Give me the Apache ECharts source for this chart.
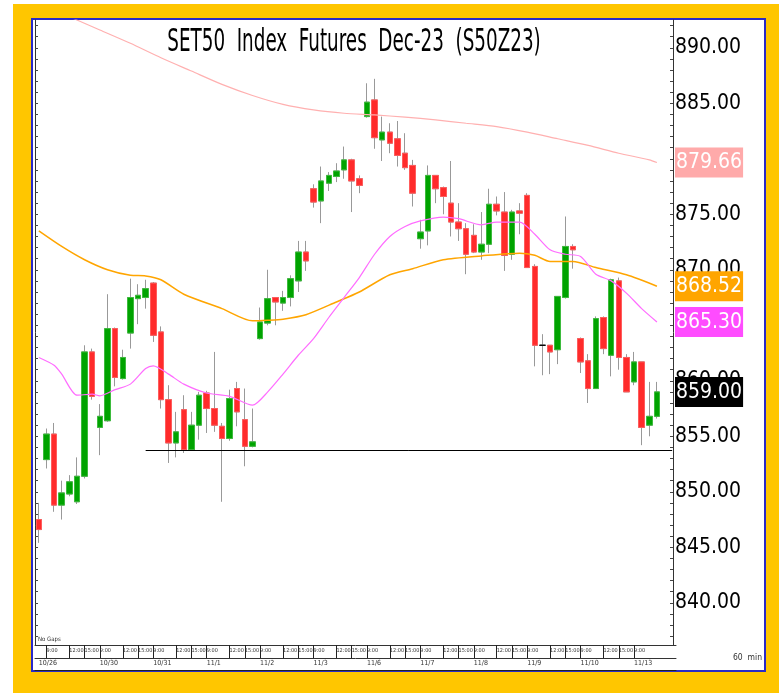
<!DOCTYPE html>
<html>
<head>
<meta charset="utf-8">
<title>SET50 Index Futures Dec-23</title>
<script src="https://cdn.jsdelivr.net/npm/echarts@6/dist/echarts.min.js"></script>
<style>
  html, body { margin: 0; padding: 0; background: #fff; }
  #frame { position: absolute; left: 13px; top: 4px; width: 766px; height: 689px; background: #ffc600; }
  #panel { position: absolute; left: 31px; top: 18px; width: 731px; height: 650px; background: #fff; border: 2px solid #2a2ac8; }
  #chart { position: absolute; left: 0; top: 0; width: 779px; height: 693px; }
</style>
</head>
<body>
<div id="frame"></div>
<div id="panel"></div>
<div id="chart"></div>
<script>
// trading days and 60 min bars per day (first day has one extra bar before 9:00)
const days = ["10/26", "10/30", "10/31", "11/1", "11/2", "11/3", "11/6", "11/7", "11/8", "11/9", "11/10", "11/13"];
const dayBars = [8, 7, 7, 7, 7, 7, 7, 7, 7, 7, 7, 4];
const sessionHours = ["9:00", "10:00", "11:00", "12:00", "14:00", "15:00", "16:00"];
const keyHours = ["9:00", "12:00", "15:00"];

// OHLC, one value per bar
const open = [
  847.5, 852.9, 855.2, 848.8, 849.8, 849.1, 851.4, 862.6, 855.8, 856.4,
  864.7, 860.2, 864.3, 867.4, 867.5, 868.8, 864.4, 858.3, 854.4, 857.4,
  853.8, 856.0, 858.9, 857.5, 855.9, 854.8, 859.3, 856.5, 854.1, 863.8,
  865.2, 867.5, 867.0, 867.5, 869.0, 871.6, 877.3, 876.2, 877.8, 878.4,
  879.0, 879.9, 878.2, 883.8, 885.3, 881.7, 882.4, 881.8, 880.5, 879.4,
  872.8, 873.5, 878.5, 877.4, 876.0, 874.3, 873.7, 873.1, 871.6, 872.3,
  875.9, 875.2, 871.4, 875.3, 876.7, 870.3, 863.2, 863.2, 862.8, 867.5,
  872.1, 863.8, 861.8, 859.3, 865.7, 862.3, 869.0, 862.1, 859.9, 861.7,
  856.0, 856.8
];
const close = [
  846.6, 855.2, 848.8, 849.9, 850.9, 851.4, 862.6, 858.6, 856.8, 864.7,
  860.3, 862.1, 867.5, 867.7, 868.3, 864.1, 858.3, 854.4, 855.4, 853.8,
  856.0, 858.7, 857.5, 856.0, 854.8, 858.4, 857.2, 854.1, 854.5, 865.3,
  867.4, 867.1, 867.5, 869.2, 871.6, 870.8, 876.1, 878.0, 878.5, 878.9,
  879.9, 878.0, 877.6, 885.1, 881.9, 882.4, 881.4, 880.3, 879.2, 876.9,
  873.4, 878.5, 877.3, 876.6, 874.3, 873.7, 871.4, 871.6, 872.3, 875.9,
  875.3, 871.3, 875.2, 875.1, 870.2, 863.2, 863.2, 862.6, 867.6, 872.1,
  871.8, 861.7, 859.3, 865.6, 862.9, 869.1, 862.1, 859.0, 861.7, 855.8,
  856.8, 859.0
];
const low = [
  845.4, 852.1, 848.2, 847.5, 849.6, 848.9, 851.2, 858.3, 853.3, 856.3,
  859.5, 860.1, 862.9, 865.1, 866.5, 863.5, 857.5, 852.6, 853.1, 853.5,
  853.8, 854.7, 855.3, 855.4, 849.1, 854.6, 855.9, 852.3, 854.0, 863.7,
  865.0, 865.0, 866.3, 866.7, 868.0, 869.9, 875.6, 874.2, 877.1, 877.9,
  878.2, 875.2, 876.9, 883.7, 880.9, 879.8, 880.5, 879.3, 879.0, 875.7,
  871.9, 872.2, 876.0, 875.0, 873.0, 872.6, 869.6, 871.5, 870.9, 871.5,
  874.9, 869.9, 870.9, 873.2, 870.2, 861.3, 860.5, 860.6, 861.5, 867.4,
  870.1, 860.7, 858.0, 859.3, 862.4, 860.4, 861.0, 859.0, 859.6, 854.2,
  855.0, 856.6
];
const high = [
  849.0, 855.7, 856.2, 851.0, 851.5, 853.1, 863.2, 862.9, 857.9, 867.8,
  864.8, 862.8, 869.2, 868.7, 869.1, 868.9, 864.9, 859.6, 857.2, 858.7,
  857.2, 859.0, 859.1, 862.6, 856.2, 859.2, 859.9, 859.3, 857.5, 866.6,
  870.0, 867.5, 868.1, 869.5, 872.6, 872.6, 877.7, 879.3, 878.8, 879.6,
  881.1, 880.0, 878.5, 886.8, 887.2, 883.8, 883.2, 883.4, 882.3, 879.9,
  874.5, 879.4, 878.5, 877.5, 879.8, 876.0, 874.2, 874.1, 875.2, 877.3,
  876.6, 877.0, 875.4, 876.0, 876.9, 870.5, 864.2, 863.2, 867.6, 874.8,
  872.3, 863.9, 862.4, 865.8, 865.8, 869.2, 869.3, 862.4, 862.6, 861.7,
  859.9, 859.9
];

// moving averages, read at selected bars
const maLongIdx = [0, 5, 8, 12, 16, 20, 24, 28, 32, 36, 40, 44, 48, 52, 56, 60, 64, 68, 72, 76, 80, 81];
const maLongVal = [894.0, 892.5, 891.6, 890.4, 889.1, 887.9, 886.7, 885.7, 884.9, 884.4, 884.1, 883.95, 883.75, 883.5, 883.2, 882.9, 882.4, 881.8, 881.2, 880.5, 879.9, 879.66];
const maMidIdx = [0, 3, 6, 9, 12, 14, 16, 19, 24, 28, 30, 32, 35, 39, 42, 46, 49, 53, 58, 63, 65, 67, 70, 73, 77, 81];
const maMidVal = [873.5, 872.1, 870.9, 870.0, 869.5, 869.45, 869.1, 867.8, 866.5, 865.4, 865.45, 865.55, 865.95, 867.1, 868.0, 869.55, 870.1, 870.9, 871.25, 871.5, 871.3, 870.75, 870.75, 870.2, 869.55, 868.52];
const maShortIdx = [0, 2, 3, 5, 7, 8, 10, 12, 14, 15, 17, 19, 22, 25, 28, 30, 32, 34, 36, 38, 40, 42, 44, 46, 48, 50, 53, 55, 58, 60, 63, 65, 67, 69, 71, 73, 75, 77, 79, 81];
const maShortVal = [862.1, 861.4, 860.6, 858.7, 858.8, 858.65, 859.2, 859.7, 861.1, 861.35, 860.6, 859.7, 858.9, 858.6, 857.8, 859.0, 860.6, 862.3, 863.8, 865.7, 867.5, 869.3, 871.4, 873.0, 873.9, 874.4, 874.75, 874.6, 874.05, 874.3, 874.3, 873.2, 871.8, 871.4, 871.2, 869.6, 869.0, 867.9, 866.5, 865.3];

// horizontal support line
const supportLevel = 853.75;
const supportFrom = 14;

const priceTicks = [840, 845, 850, 855, 860, 865, 870, 875, 880, 885, 890];
const priceMin = 836.2;
const priceMax = 892.5;

const narrow = "'Liberation Sans Narrow', 'DejaVu Sans Condensed', 'Arial Narrow', sans-serif";

// categories "day|hour", plus two empty slots on the right
const categories = [];
const dayStartIdx = [];
days.forEach((d, k) => {
  const n = dayBars[k];
  const hs = n > sessionHours.length ? [""].concat(sessionHours) : sessionHours.slice(0, n);
  dayStartIdx.push(categories.length);
  hs.forEach(h => categories.push(d + "|" + h));
});
categories.push(" |", "  |");

const wickData = open.map((o, i) => [o, close[i], low[i], high[i]]);
const bodyData = open.map((o, i) => [o, close[i], Math.min(o, close[i]), Math.max(o, close[i])]);

const unitTicks = [];
for (let v = Math.ceil(priceMin); v <= priceMax; v++) unitTicks.push(v);

// value tags on the price scale
const tagValues = [maLongVal[maLongVal.length - 1], maMidVal[maMidVal.length - 1], maShortVal[maShortVal.length - 1], close[close.length - 1]];
const tagKeys = ["r", "o", "m", "k"];
const tagBox = { color: "#fff", fontSize: 21, fontFamily: narrow, lineHeight: 26, padding: [5, 1, 4, 1] };

// hour marks; the last bar's label would run past the price scale, so it is left out
const isKeyHour = (i, v) => i < open.length - 1 && keyHours.indexOf(v.split("|")[1]) >= 0;

const chart = echarts.init(document.getElementById("chart"));
chart.setOption({
  animation: false,
  grid: { left: 35, top: 20, width: 641, bottom: 48 },
  xAxis: [
    {
      type: "category",
      position: "bottom",
      data: categories,
      axisLine: { lineStyle: { color: "#333" } },
      axisTick: { show: true, alignWithLabel: true, interval: isKeyHour, length: 13, lineStyle: { color: "#222", width: 1 } },
      axisLabel: {
        interval: isKeyHour,
        showMinLabel: true,
        showMaxLabel: true,
        hideOverlap: false,
        formatter: v => v.split("|")[1],
        align: "left",
        margin: 3,
        fontSize: 5.5,
        fontFamily: narrow,
        color: "#333"
      },
      splitLine: { show: false }
    },
    {
      type: "category",
      position: "bottom",
      data: categories,
      offset: 13,
      axisLine: { lineStyle: { color: "#333" } },
      axisTick: { show: false },
      axisLabel: {
        interval: i => dayStartIdx.indexOf(i) >= 0,
        showMinLabel: true,
        showMaxLabel: true,
        formatter: v => v.split("|")[0].trim(),
        align: "left",
        margin: 2,
        fontSize: 7,
        fontFamily: narrow,
        color: "#333"
      }
    },
    {
      type: "category",
      position: "bottom",
      data: categories,
      offset: 25,
      axisLine: { lineStyle: { color: "#222" } },
      axisTick: { show: false },
      axisLabel: { show: false }
    }
  ],
  yAxis: [
    {
      type: "value",
      position: "right",
      offset: -3,
      min: priceMin,
      max: priceMax,
      axisLine: { show: true, lineStyle: { color: "#333" } },
      axisTick: { show: true, inside: true, length: 3, customValues: unitTicks, lineStyle: { color: "#444" } },
      axisLabel: {
        customValues: priceTicks,
        formatter: v => v.toFixed(2),
        margin: 2,
        fontSize: 21,
        fontFamily: narrow,
        color: "#000"
      },
      splitLine: { show: false }
    },
    {
      type: "value",
      position: "right",
      offset: -3,
      min: priceMin,
      max: priceMax,
      z: 5,
      axisLine: { show: false },
      axisTick: { show: false },
      axisLabel: {
        customValues: tagValues,
        margin: 2,
        formatter: v => {
          let best = 0;
          tagValues.forEach((t, k) => { if (Math.abs(t - v) < Math.abs(tagValues[best] - v)) best = k; });
          return "{" + tagKeys[best] + "|" + v.toFixed(2) + "}";
        },
        rich: {
          r: Object.assign({ backgroundColor: "#ffaaaa" }, tagBox),
          o: Object.assign({ backgroundColor: "#ffa500" }, tagBox),
          m: Object.assign({ backgroundColor: "#ff4cff" }, tagBox),
          k: Object.assign({ backgroundColor: "#000" }, tagBox)
        }
      },
      splitLine: { show: false }
    },
    {
      type: "value",
      position: "left",
      min: priceMin,
      max: priceMax,
      axisLine: { show: true, lineStyle: { color: "#333" } },
      axisTick: { show: true, inside: true, length: 3, customValues: unitTicks, lineStyle: { color: "#444" } },
      axisLabel: { show: false },
      splitLine: { show: false }
    }
  ],
  series: [
    {
      // gray wicks
      type: "candlestick",
      data: wickData,
      barWidth: 6,
      itemStyle: {
        color: "#999", color0: "#999",
        borderColor: "#999", borderColor0: "#999", borderColorDoji: "#999",
        borderWidth: 1
      }
    },
    {
      // coloured bodies
      type: "candlestick",
      data: bodyData,
      barWidth: 6,
      itemStyle: {
        color: "#00a300", color0: "#ff2b2b",
        borderColor: "#3dbb3d", borderColor0: "#ff5c5c", borderColorDoji: "#000",
        borderWidth: 1
      },
      markLine: {
        silent: true,
        symbol: "none",
        label: { show: false },
        lineStyle: { color: "#000", width: 1, type: "solid" },
        data: [[{ coord: [supportFrom, supportLevel] }, { coord: [categories.length - 1, supportLevel] }]]
      }
    },
    {
      type: "line",
      data: maLongIdx.map((x, k) => [x, maLongVal[k]]),
      symbol: "none",
      smooth: 0.25,
      z: 3,
      lineStyle: { color: "#ffb0b0", width: 1.2 }
    },
    {
      type: "line",
      data: maMidIdx.map((x, k) => [x, maMidVal[k]]),
      symbol: "none",
      smooth: 0.25,
      z: 3,
      lineStyle: { color: "#ffa500", width: 1.5 }
    },
    {
      type: "line",
      data: maShortIdx.map((x, k) => [x, maShortVal[k]]),
      symbol: "none",
      smooth: 0.25,
      z: 3,
      lineStyle: { color: "#ff6cff", width: 1.2 }
    }
  ],
  graphic: [
    {
      type: "text",
      x: 354,
      y: 26,
      scaleX: 0.85,
      scaleY: 1.35,
      style: {
        text: "SET50  Index  Futures  Dec-23  (S50Z23)",
        fontSize: 24,
        fontFamily: narrow,
        fill: "#000",
        align: "center",
        textAlign: "center",
        verticalAlign: "top",
        textVerticalAlign: "top"
      }
    },
    {
      type: "text",
      x: 38,
      y: 636,
      style: { text: "No Gaps", fontSize: 6, fontFamily: narrow, fill: "#333" }
    },
    {
      type: "text",
      x: 733,
      y: 653,
      style: { text: "60  min", fontSize: 8.5, fontFamily: narrow, fill: "#333" }
    }
  ]
});
</script>
</body>
</html>
